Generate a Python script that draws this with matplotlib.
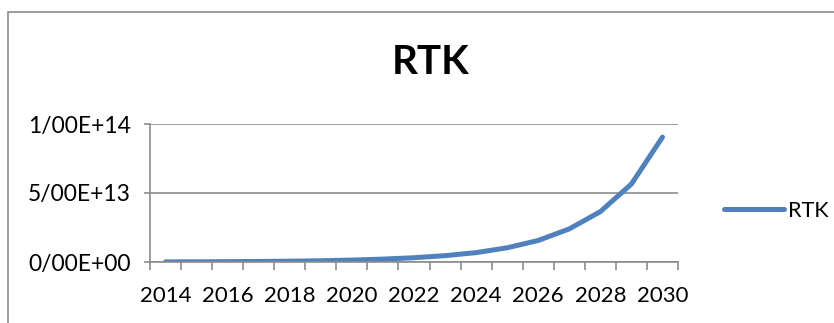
import matplotlib.pyplot as plt
from matplotlib.patches import Rectangle
from matplotlib.ticker import FuncFormatter, FixedLocator

# RTK por ano (valores em unidades absolutas)
years = list(range(2014, 2031))
rtk = [0.1e12, 0.15e12, 0.25e12, 0.4e12, 0.6e12, 0.9e12, 1.4e12, 2.1e12,
       3.1e12, 4.6e12, 6.8e12, 10.3e12, 15.6e12, 24.0e12, 36.5e12, 56.5e12, 90.5e12]
y_ticks = [0, 5e13, 1e14]
series_name = "RTK"

LINE_COLOR = "#4F81BD"
GRID_COLOR = "#8C8C8C"

plt.rcParams["font.family"] = ["Lato", "DejaVu Sans"]


def excel_sci(v, pos=None):
    # notação científica com "/" no lugar do separador decimal
    s = "{:.2E}".format(v)
    mant, exp = s.split("E")
    sign = exp[0]
    digits = exp[1:].zfill(2)
    return mant.replace(".", "/") + "E" + sign + digits


fig = plt.figure(figsize=(8.34, 3.23), dpi=100)

# moldura do gráfico
fig.patches.append(Rectangle((8 / 834, -0.2), 1.2, 0.2 + 1 - 12 / 323,
                             transform=fig.transFigure, fill=False,
                             edgecolor=GRID_COLOR, linewidth=1.2))

ax = fig.add_axes([150 / 834, 1 - 262 / 323, (678 - 150) / 834, (262 - 124) / 323])

x = list(range(len(years)))
line, = ax.plot(x, rtk, color=LINE_COLOR, linewidth=3.6,
                solid_capstyle="round", solid_joinstyle="round", label=series_name)

ax.set_xlim(-0.5, len(years) - 0.5)
ax.set_ylim(0, 1e14)

# eixo de categorias: marcas entre as categorias, rótulo a cada dois anos
ax.xaxis.set_major_locator(FixedLocator(x[::2]))
ax.set_xticklabels([str(y) for y in years[::2]])
ax.xaxis.set_minor_locator(FixedLocator([i - 0.5 for i in range(len(years) + 1)]))
ax.tick_params(axis="x", which="major", length=0, pad=17, labelsize=16)
ax.tick_params(axis="x", which="minor", length=6, color=GRID_COLOR, width=1.2)

ax.yaxis.set_major_locator(FixedLocator(y_ticks))
ax.yaxis.set_major_formatter(FuncFormatter(excel_sci))
ax.tick_params(axis="y", length=4, color=GRID_COLOR, width=1.2, pad=10, labelsize=16.5)

ax.grid(axis="y", color=GRID_COLOR, linewidth=1.2)
ax.set_axisbelow(True)
for side in ("top", "right"):
    ax.spines[side].set_visible(False)
for side in ("left", "bottom"):
    ax.spines[side].set_color(GRID_COLOR)
    ax.spines[side].set_linewidth(1.2)

fig.text(431 / 834, 1 - 62.5 / 323, "RTK", ha="center", va="center",
         fontsize=29, fontweight="bold")

fig.legend(handles=[line], loc="center left", bbox_to_anchor=(715 / 834, 1 - 211 / 323),
           frameon=False, fontsize=15.5, handlelength=2.8, handletextpad=0.2,
           borderaxespad=0)

fig.savefig("out.png", dpi=100)
plt.close(fig)
